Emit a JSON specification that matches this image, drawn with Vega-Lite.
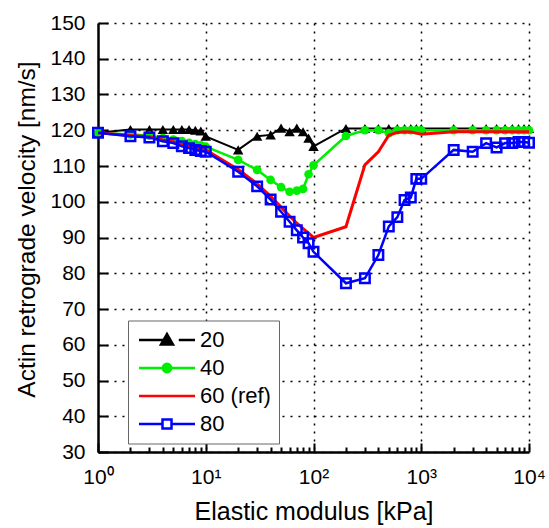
{
  "$schema": "https://vega.github.io/schema/vega-lite/v6.json",
  "width": 431,
  "height": 429,
  "autosize": {"type": "none"},
  "padding": {"left": 98, "top": 23, "right": 20, "bottom": 76},
  "background": "white",
  "config": {"view": {"stroke": null}, "font": "Liberation Sans"},
  "datasets": {
    "d": [
      {"E": 1, "v": 119.3, "s": "20"}, {"E": 2, "v": 120.2, "s": "20"}, {"E": 3, "v": 120.2, "s": "20"}, {"E": 4, "v": 120.2, "s": "20"}, {"E": 5, "v": 120.2, "s": "20"}, {"E": 6, "v": 120.2, "s": "20"}, {"E": 7, "v": 120.2, "s": "20"}, {"E": 8, "v": 120.0, "s": "20"}, {"E": 9, "v": 119.8, "s": "20"}, {"E": 10, "v": 118.3, "s": "20"},
      {"E": 20, "v": 114.5, "s": "20"}, {"E": 30, "v": 118.3, "s": "20"}, {"E": 40, "v": 118.7, "s": "20"}, {"E": 50, "v": 120.6, "s": "20"}, {"E": 60, "v": 119.6, "s": "20"}, {"E": 70, "v": 120.6, "s": "20"}, {"E": 80, "v": 119.6, "s": "20"}, {"E": 90, "v": 117.8, "s": "20"}, {"E": 100, "v": 115.5, "s": "20"},
      {"E": 200, "v": 120.5, "s": "20"}, {"E": 300, "v": 120.5, "s": "20"}, {"E": 400, "v": 120.5, "s": "20"}, {"E": 500, "v": 120.5, "s": "20"}, {"E": 600, "v": 120.5, "s": "20"}, {"E": 700, "v": 120.5, "s": "20"}, {"E": 800, "v": 120.5, "s": "20"}, {"E": 900, "v": 120.5, "s": "20"}, {"E": 1000, "v": 120.5, "s": "20"},
      {"E": 2000, "v": 120.5, "s": "20"}, {"E": 3000, "v": 120.5, "s": "20"}, {"E": 4000, "v": 120.5, "s": "20"}, {"E": 5000, "v": 120.5, "s": "20"}, {"E": 6000, "v": 120.5, "s": "20"}, {"E": 7000, "v": 120.5, "s": "20"}, {"E": 8000, "v": 120.5, "s": "20"}, {"E": 9000, "v": 120.5, "s": "20"}, {"E": 10000, "v": 120.5, "s": "20"},

      {"E": 1, "v": 119.3, "s": "40"}, {"E": 2, "v": 118.8, "s": "40"}, {"E": 3, "v": 118.5, "s": "40"}, {"E": 4, "v": 117.8, "s": "40"}, {"E": 5, "v": 117.4, "s": "40"}, {"E": 6, "v": 117.0, "s": "40"}, {"E": 7, "v": 116.5, "s": "40"}, {"E": 8, "v": 116.1, "s": "40"}, {"E": 9, "v": 115.8, "s": "40"}, {"E": 10, "v": 115.4, "s": "40"},
      {"E": 20, "v": 111.7, "s": "40"}, {"E": 30, "v": 108.9, "s": "40"}, {"E": 40, "v": 106.1, "s": "40"}, {"E": 50, "v": 104.1, "s": "40"}, {"E": 60, "v": 102.8, "s": "40"}, {"E": 70, "v": 103.1, "s": "40"}, {"E": 80, "v": 103.6, "s": "40"}, {"E": 90, "v": 107.7, "s": "40"}, {"E": 100, "v": 110.2, "s": "40"},
      {"E": 200, "v": 118.4, "s": "40"}, {"E": 300, "v": 120.0, "s": "40"}, {"E": 400, "v": 120.0, "s": "40"}, {"E": 500, "v": 119.2, "s": "40"}, {"E": 600, "v": 120.0, "s": "40"}, {"E": 700, "v": 120.0, "s": "40"}, {"E": 800, "v": 120.0, "s": "40"}, {"E": 900, "v": 120.0, "s": "40"}, {"E": 1000, "v": 120.0, "s": "40"},
      {"E": 2000, "v": 120.0, "s": "40"}, {"E": 3000, "v": 120.0, "s": "40"}, {"E": 4000, "v": 120.0, "s": "40"}, {"E": 5000, "v": 120.0, "s": "40"}, {"E": 6000, "v": 120.0, "s": "40"}, {"E": 7000, "v": 120.0, "s": "40"}, {"E": 8000, "v": 120.0, "s": "40"}, {"E": 9000, "v": 120.0, "s": "40"}, {"E": 10000, "v": 120.0, "s": "40"},

      {"E": 1, "v": 119.3, "s": "60 (ref)"}, {"E": 2, "v": 118.5, "s": "60 (ref)"}, {"E": 3, "v": 118.2, "s": "60 (ref)"}, {"E": 4, "v": 117.3, "s": "60 (ref)"}, {"E": 5, "v": 116.8, "s": "60 (ref)"}, {"E": 6, "v": 116.1, "s": "60 (ref)"}, {"E": 7, "v": 115.6, "s": "60 (ref)"}, {"E": 8, "v": 115.1, "s": "60 (ref)"}, {"E": 9, "v": 114.8, "s": "60 (ref)"}, {"E": 10, "v": 114.5, "s": "60 (ref)"},
      {"E": 20, "v": 109.0, "s": "60 (ref)"}, {"E": 30, "v": 105.0, "s": "60 (ref)"}, {"E": 40, "v": 101.5, "s": "60 (ref)"}, {"E": 50, "v": 98.5, "s": "60 (ref)"}, {"E": 60, "v": 96.0, "s": "60 (ref)"}, {"E": 70, "v": 94.0, "s": "60 (ref)"}, {"E": 80, "v": 92.5, "s": "60 (ref)"}, {"E": 90, "v": 91.2, "s": "60 (ref)"}, {"E": 100, "v": 90.0, "s": "60 (ref)"},
      {"E": 200, "v": 93.0, "s": "60 (ref)"}, {"E": 300, "v": 110.3, "s": "60 (ref)"}, {"E": 400, "v": 114.0, "s": "60 (ref)"}, {"E": 500, "v": 118.6, "s": "60 (ref)"}, {"E": 600, "v": 119.4, "s": "60 (ref)"}, {"E": 700, "v": 119.6, "s": "60 (ref)"}, {"E": 800, "v": 119.5, "s": "60 (ref)"}, {"E": 900, "v": 119.2, "s": "60 (ref)"}, {"E": 1000, "v": 118.9, "s": "60 (ref)"},
      {"E": 2000, "v": 119.6, "s": "60 (ref)"}, {"E": 3000, "v": 119.6, "s": "60 (ref)"}, {"E": 4000, "v": 119.6, "s": "60 (ref)"}, {"E": 5000, "v": 119.6, "s": "60 (ref)"}, {"E": 6000, "v": 119.6, "s": "60 (ref)"}, {"E": 7000, "v": 119.6, "s": "60 (ref)"}, {"E": 8000, "v": 119.6, "s": "60 (ref)"}, {"E": 9000, "v": 119.6, "s": "60 (ref)"}, {"E": 10000, "v": 119.6, "s": "60 (ref)"},

      {"E": 1, "v": 119.3, "s": "80"}, {"E": 2, "v": 118.3, "s": "80"}, {"E": 3, "v": 118.0, "s": "80"}, {"E": 4, "v": 116.9, "s": "80"}, {"E": 5, "v": 116.4, "s": "80"}, {"E": 6, "v": 115.5, "s": "80"}, {"E": 7, "v": 115.0, "s": "80"}, {"E": 8, "v": 114.5, "s": "80"}, {"E": 9, "v": 114.2, "s": "80"}, {"E": 10, "v": 114.0, "s": "80"},
      {"E": 20, "v": 108.4, "s": "80"}, {"E": 30, "v": 104.3, "s": "80"}, {"E": 40, "v": 100.6, "s": "80"}, {"E": 50, "v": 97.2, "s": "80"}, {"E": 60, "v": 94.4, "s": "80"}, {"E": 70, "v": 92.0, "s": "80"}, {"E": 80, "v": 90.0, "s": "80"}, {"E": 90, "v": 88.4, "s": "80"}, {"E": 100, "v": 86.0, "s": "80"},
      {"E": 200, "v": 77.2, "s": "80"}, {"E": 300, "v": 78.6, "s": "80"}, {"E": 400, "v": 85.1, "s": "80"}, {"E": 500, "v": 93.1, "s": "80"}, {"E": 600, "v": 95.7, "s": "80"}, {"E": 700, "v": 100.5, "s": "80"}, {"E": 800, "v": 101.2, "s": "80"}, {"E": 900, "v": 106.4, "s": "80"}, {"E": 1000, "v": 106.4, "s": "80"},
      {"E": 2000, "v": 114.5, "s": "80"}, {"E": 3000, "v": 114.0, "s": "80"}, {"E": 4000, "v": 116.4, "s": "80"}, {"E": 5000, "v": 115.2, "s": "80"}, {"E": 6000, "v": 116.4, "s": "80"}, {"E": 7000, "v": 116.4, "s": "80"}, {"E": 8000, "v": 116.7, "s": "80"}, {"E": 9000, "v": 116.7, "s": "80"}, {"E": 10000, "v": 116.5, "s": "80"}
    ]
  },
  "data": {"name": "d"},
  "encoding": {
    "x": {
      "field": "E",
      "type": "quantitative",
      "scale": {"type": "log", "domain": [1, 10000], "nice": false},
      "axis": {
        "title": "Elastic modulus [kPa]",
        "titleFontSize": 25,
        "titleFontWeight": "normal",
        "titleColor": "black",
        "titlePadding": 8,
        "values": [1,2,3,4,5,6,7,8,9,10,20,30,40,50,60,70,80,90,100,200,300,400,500,600,700,800,900,1000,2000,3000,4000,5000,6000,7000,8000,9000,10000],
        "labelExpr": "datum.value === 1 ? '10⁰' : datum.value === 10 ? '10¹' : datum.value === 100 ? '10²' : datum.value === 1000 ? '10³' : datum.value === 10000 ? '10⁴' : ''",
        "labelFontSize": 21,
        "labelColor": "black",
        "labelOverlap": false,
        "labelFlush": false,
        "labelPadding": 23,
        "domainColor": "black",
        "domainWidth": 2.5,
        "tickColor": "black",
        "tickWidth": 2,
        "tickSize": {"condition": {"test": "indexof([1,10,100,1000,10000], datum.value) >= 0", "value": -9}, "value": -5},
        "grid": true,
        "gridColor": "black",
        "gridDash": [2, 6],
        "gridWidth": 1.5,
        "gridOpacity": {"condition": {"test": "indexof([10,100,1000,10000], datum.value) >= 0", "value": 1}, "value": 0}
      }
    },
    "y": {
      "field": "v",
      "type": "quantitative",
      "scale": {"domain": [30, 150], "nice": false, "zero": false},
      "axis": {
        "title": "Actin retrograde velocity [nm/s]",
        "titleFontSize": 24.5,
        "titleFontWeight": "normal",
        "titleColor": "black",
        "titleX": -59,
        "titleY": 206,
        "titleBaseline": "bottom",
        "values": [30,40,50,60,70,80,90,100,110,120,130,140,150],
        "labelFontSize": 21,
        "labelColor": "black",
        "labelPadding": 23,
        "labelOverlap": false,
        "domainColor": "black",
        "domainWidth": 2.5,
        "tickColor": "black",
        "tickWidth": 2,
        "tickSize": -10,
        "grid": true,
        "gridColor": "black",
        "gridDash": [2, 6],
        "gridWidth": 1.5
      }
    }
  },
  "layer": [
    {
      "transform": [{"filter": "datum.s === '20'"}],
      "mark": {"type": "line", "strokeWidth": 2},
      "encoding": {
        "color": {
          "field": "s", "type": "nominal",
          "scale": {"domain": ["20", "40", "60 (ref)", "80"], "range": ["black", "#00ee00", "red", "blue"]},
          "legend": {
            "title": null,
            "orient": "none",
            "legendX": 30,
            "legendY": 297.5,
            "fillColor": "white",
            "strokeColor": "#666666",
            "padding": 8,
            "labelFontSize": 22,
            "labelColor": "black",
            "labelOffset": 41,
            "rowPadding": 5,
            "symbolSize": 400,
            "symbolStrokeWidth": 2.5,
            "encode": {
              "symbols": {
                "update": {
                  "shape": {"signal": "datum.value === '20' ? 'M-2.8,0H0.28M1.18,0H2.8M0,-0.6L0.6,0.45L-0.6,0.45Z' : datum.value === '40' ? 'M-2.8,0H2.8M0.42,0A0.42,0.42 0 1,1 -0.42,0A0.42,0.42 0 1,1 0.42,0Z' : datum.value === '80' ? 'M-2.8,0H-0.45M0.45,0H2.8M-0.45,-0.45H0.45V0.45H-0.45Z' : 'M-2.8,0H2.8'"},
                  "fill": {"signal": "datum.value === '20' ? 'black' : datum.value === '40' ? '#00ee00' : 'transparent'"},
                  "x": {"value": 31}
                }
              }
            }
          }
        }
      }
    },
    {
      "transform": [{"filter": "datum.s === '20'"}],
      "mark": {"type": "point", "shape": "triangle-up", "filled": true, "color": "black", "size": 110, "opacity": 1}
    },
    {
      "transform": [{"filter": "datum.s === '40'"}],
      "mark": {"type": "line", "strokeWidth": 2.5},
      "encoding": {"color": {"field": "s", "type": "nominal", "legend": null}}
    },
    {
      "transform": [{"filter": "datum.s === '40'"}],
      "mark": {"type": "point", "shape": "circle", "filled": true, "color": "#00ee00", "size": 75, "opacity": 1}
    },
    {
      "transform": [{"filter": "datum.s === '60 (ref)'"}],
      "mark": {"type": "line", "strokeWidth": 3},
      "encoding": {"color": {"field": "s", "type": "nominal", "legend": null}}
    },
    {
      "transform": [{"filter": "datum.s === '80'"}],
      "mark": {"type": "line", "strokeWidth": 2.5},
      "encoding": {"color": {"field": "s", "type": "nominal", "legend": null}}
    },
    {
      "transform": [{"filter": "datum.s === '80'"}],
      "mark": {"type": "point", "shape": "square", "filled": false, "color": "blue", "size": 90, "strokeWidth": 2.5, "opacity": 1}
    }
  ]
}
